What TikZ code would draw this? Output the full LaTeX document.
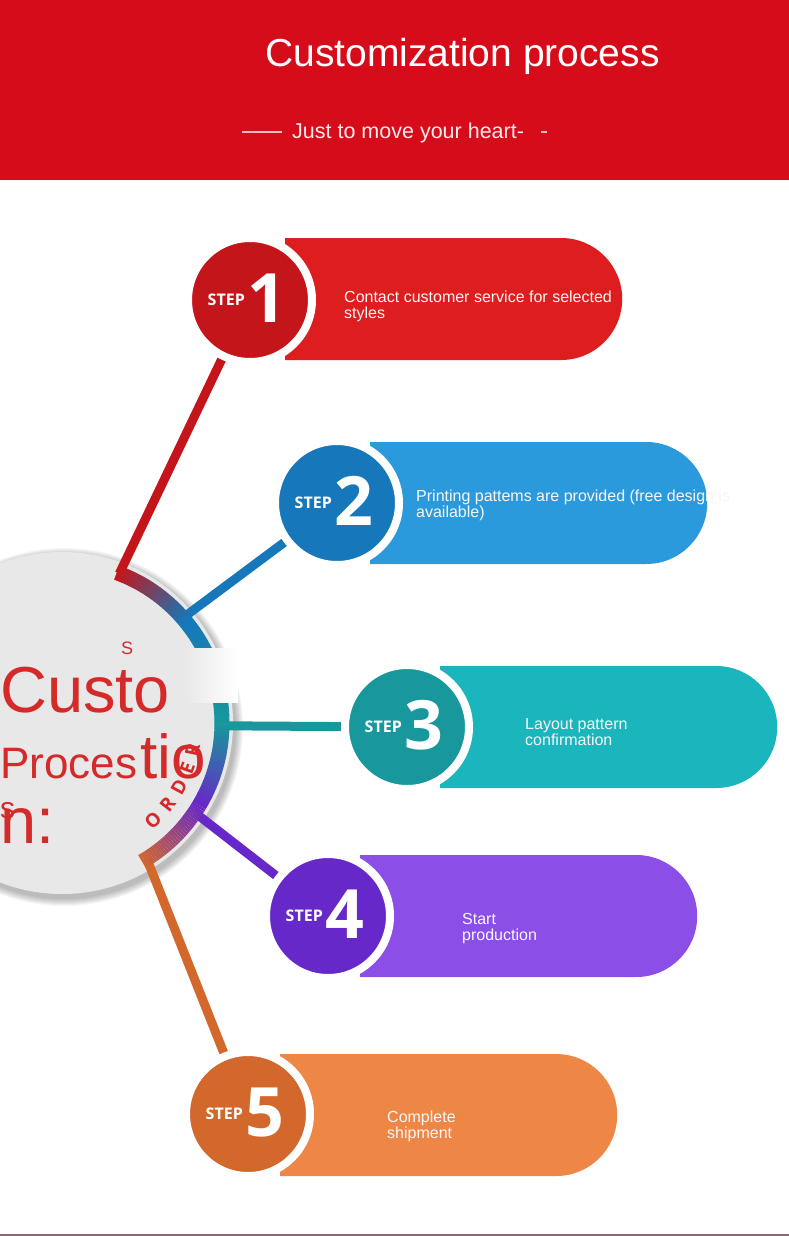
\documentclass[tikz,border=0pt]{standalone}
\usepackage{fontspec}
\setmainfont{Liberation Sans}
\newfontfamily\stepfont{Open Sans}
\usetikzlibrary{shapes.misc,decorations.text,calc}
\definecolor{hdr}{HTML}{D60C1A}
\definecolor{pA}{HTML}{DE1E1E}\definecolor{cA}{HTML}{C4161A}
\definecolor{pB}{HTML}{2A9ADC}\definecolor{cB}{HTML}{1677BA}
\definecolor{pC}{HTML}{1BB5BD}\definecolor{cC}{HTML}{18979C}
\definecolor{pD}{HTML}{8B4FE8}\definecolor{cD}{HTML}{6628C8}
\definecolor{pE}{HTML}{EE8746}\definecolor{cE}{HTML}{D3682C}
\definecolor{ctxt}{HTML}{D42A2A}
\definecolor{disc}{HTML}{E8E8E8}
\begin{document}
\begin{tikzpicture}[x=1pt,y=-1pt,
  pill/.style={rounded rectangle, rounded rectangle west arc=none, minimum width=337pt, minimum height=122pt, inner sep=0pt, anchor=west},
  stepdisc/.style={circle, draw=white, line width=8pt, minimum size=124pt, inner sep=0pt},
  link/.style={line width=9pt},
  steplbl/.style={font=\stepfont\bfseries\fontsize{16}{16}\selectfont, text=white, inner sep=0pt, anchor=base east},
  stepnum/.style={font=\stepfont\bfseries\fontsize{68}{68}\selectfont, text=white, inner sep=0pt, anchor=base west},
  desc/.style={font=\fontsize{16}{16}\selectfont, text=white!94!gray, inner sep=0pt, anchor=base west, align=left},
  bigtxt/.style={text=ctxt, inner sep=0pt, anchor=base west}]
\useasboundingbox (0,0) rectangle (789,1236);
\fill[white] (0,0) rectangle (789,1236);
% header
\fill[hdr] (0,0) rectangle (789,180);
\node[font=\fontsize{39}{39}\selectfont, text=white, inner sep=0pt, anchor=base west] (title) at (265,67) {Customization process};
\node[font=\fontsize{21.5}{21.5}\selectfont, text=white!92!red, inner sep=0pt, anchor=base west] (sub) at (292,139) {Just to move your heart-};
\draw[white!75!red, line width=1.2pt] (242,132) -- (282,132);
\draw[white!75!red, line width=1.2pt] (541,132) -- (547,132);
% bottom line
\draw[gray!80!purple, line width=2pt] (0,1235) -- (789,1235);

% central disc with soft shadow
\coordinate (c) at (62,723);
\foreach \k in {1,...,8}{
  \fill[black, opacity=0.035] ($(c)+(2,4)$) circle[radius=171pt+\k pt];}
\fill[disc] (c) circle[radius=171pt];

% ring anchor coordinates
\coordinate (r1) at ($(c)+(69:160pt)$);
\coordinate (r2) at ($(c)+(41:160pt)$);
\coordinate (r3) at ($(c)+(-1:160pt)$);
\coordinate (r4) at ($(c)+(-34:160pt)$);
\coordinate (r5) at ($(c)+(-58:160pt)$);

\path (250,300) coordinate (p1) (337,503) coordinate (p2) (407,727) coordinate (p3) (328,916) coordinate (p4) (248,1114) coordinate (p5);

% connectors
\draw[link, cA] (r1) -- (p1);
\draw[link, cB] (r2) -- (p2);
\draw[link, cC] (r3) -- (p3);
\draw[link, cD] (r4) -- (p4);
\draw[link, cE] (r5) -- (p5);

% gradient ring
\foreach \i in {0,...,29}{
  \pgfmathsetmacro\a{70-\i}\pgfmathsetmacro\p{100-\i*100/30}
  \draw[line width=15pt, color=cA!\p!cB] ($(c)+(\a:160pt)$) arc[start angle=\a, end angle=\a-1.2, radius=160pt];}
\foreach \i in {0,...,39}{
  \pgfmathsetmacro\a{40-\i}\pgfmathsetmacro\p{100-\i*100/40}
  \draw[line width=15pt, color=cB!\p!cC] ($(c)+(\a:160pt)$) arc[start angle=\a, end angle=\a-1.2, radius=160pt];}
\foreach \i in {0,...,29}{
  \pgfmathsetmacro\a{0-\i}\pgfmathsetmacro\p{100-\i*100/30}
  \draw[line width=15pt, color=cC!\p!cD] ($(c)+(\a:160pt)$) arc[start angle=\a, end angle=\a-1.2, radius=160pt];}
\foreach \i in {0,...,29}{
  \pgfmathsetmacro\a{-30-\i}\pgfmathsetmacro\p{100-\i*100/30}
  \draw[line width=15pt, color=cD!\p!cE] ($(c)+(\a:160pt)$) arc[start angle=\a, end angle=\a-1.0, radius=160pt];}

% glitch patch
\shade[left color=disc, right color=white] (184,648) rectangle (238,702);

% disc texts
\node[bigtxt, font=\fontsize{65}{65}\selectfont] (t1) at (0,712) {Custo};
\node[bigtxt, font=\fontsize{44}{44}\selectfont] (t2) at (0,778) {Proces};
\node[bigtxt, font=\fontsize{62}{62}\selectfont] (t3) at (140,778) {tio};
\node[bigtxt, font=\fontsize{30}{30}\selectfont] (t4) at (0,818) {s};
\node[bigtxt, font=\fontsize{65}{65}\selectfont] (t5) at (0,843) {n:};
\node[bigtxt, font=\fontsize{18}{18}\selectfont] (t6) at (121,654) {S};
\path[decorate, decoration={text along path, text={|\stepfont\bfseries\fontsize{19}{19}\selectfont\color{ctxt}|O R D E R}, text align=fit to path}]
  ($(c)+(-50:140pt)$) arc[start angle=-50, end angle=-9, radius=140pt];

% pills
\node[pill, fill=pA] (b1) at (285,299) {};
\node[pill, fill=pB] (b2) at (370,503) {};
\node[pill, fill=pC] (b3) at (440,727) {};
\node[pill, fill=pD] (b4) at (360,916) {};
\node[pill, fill=pE] (b5) at (280,1115) {};

% circles
\node[stepdisc, fill=cA] (s1) at (p1) {};
\node[stepdisc, fill=cB] (s2) at (p2) {};
\node[stepdisc, fill=cC] (s3) at (p3) {};
\node[stepdisc, fill=cD] (s4) at (p4) {};
\node[stepdisc, fill=cE] (s5) at (p5) {};

\foreach \n/\x/\y in {1/250/300,2/337/503,3/407/727,4/328/916,5/248/1114}{
  \node[steplbl] (l\n) at (\x-5,\y+5) {STEP};
  \node[stepnum] (n\n) at (\x-3,\y+22) {\n};
}

% descriptions (anchor = baseline of last line)
\node[desc] (d1) at (344,318) {Contact customer service for selected\\styles};
\node[desc] (d2) at (416,517) {Printing pattems are provided (free design is\\available)};
\node[desc] (d3) at (525,745) {Layout pattern\\confirmation};
\node[desc] (d4) at (462,940) {Start\\production};
\node[desc] (d5) at (387,1138) {Complete\\shipment};
\end{tikzpicture}
\end{document}
